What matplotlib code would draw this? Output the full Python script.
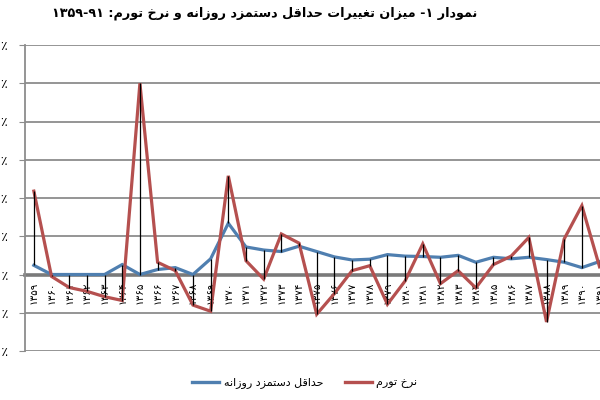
import matplotlib
matplotlib.use("Agg")
import matplotlib.pyplot as plt
from matplotlib.lines import Line2D

# years 1359..1391 (Persian digits on the axis)
years = list(range(1359, 1392))

# rate of change of the daily minimum wage (%)
wage_change = [12, 0, 0, 0, 0, 13, 0, 6.5, 9, 0, 20.5,
               67, 36, 32, 30, 37, 30, 23, 19, 20, 26,
               24, 23.5, 22.5, 25, 16, 22.5, 20.5, 22.5, 19.5, 16,
               9, 17]

# rate of change of inflation (%)
inflation_change = [109, -2.5, -17, -22, -29, -34, 250, 16, 5, -40, -48,
                    129, 18, -6, 53, 41, -52, -25, 5, 11.5, -39,
                    -8.5, 40, -12, 5, -17.5, 13, 24, 48.5, -62, 46.5,
                    90, 10]

yticks = [-100, -50, 0, 50, 100, 150, 200, 250, 300]

TITLE = "نمودار ۱- میزان تغییرات حداقل دستمزد روزانه و نرخ تورم: ۹۱-۱۳۵۹"
LABEL_WAGE = "حداقل دستمزد روزانه"
LABEL_INFL = "نرخ تورم"

BLUE = "#4f7fb0"
RED = "#b5504f"
GRID = "#8c8c8c"

# --- minimal persian shaping (matplotlib does no bidi / joining) ---
FORMS = {  # isolated, final, initial, medial
    "ا": (0xFE8D, 0xFE8E, None, None),
    "ب": (0xFE8F, 0xFE90, 0xFE91, 0xFE92),
    "ت": (0xFE95, 0xFE96, 0xFE97, 0xFE98),
    "ح": (0xFEA1, 0xFEA2, 0xFEA3, 0xFEA4),
    "خ": (0xFEA5, 0xFEA6, 0xFEA7, 0xFEA8),
    "د": (0xFEA9, 0xFEAA, None, None),
    "ر": (0xFEAD, 0xFEAE, None, None),
    "ز": (0xFEAF, 0xFEB0, None, None),
    "س": (0xFEB1, 0xFEB2, 0xFEB3, 0xFEB4),
    "غ": (0xFECD, 0xFECE, 0xFECF, 0xFED0),
    "ق": (0xFED5, 0xFED6, 0xFED7, 0xFED8),
    "ل": (0xFEDD, 0xFEDE, 0xFEDF, 0xFEE0),
    "م": (0xFEE1, 0xFEE2, 0xFEE3, 0xFEE4),
    "ن": (0xFEE5, 0xFEE6, 0xFEE7, 0xFEE8),
    "ه": (0xFEE9, 0xFEEA, 0xFEEB, 0xFEEC),
    "و": (0xFEED, 0xFEEE, None, None),
    "ی": (0xFBFC, 0xFBFD, 0xFBFE, 0xFBFF),
}
PDIG = "۰۱۲۳۴۵۶۷۸۹"


def fa(text):
    out = []
    for i, ch in enumerate(text):
        if ch not in FORMS:
            out.append(ch)
            continue
        prev = text[i - 1] if i > 0 else ""
        nxt = text[i + 1] if i + 1 < len(text) else ""
        join_prev = prev in FORMS and FORMS[prev][2] is not None
        join_next = nxt in FORMS and FORMS[ch][2] is not None
        iso, fin, ini, med = FORMS[ch]
        if join_prev and join_next:
            out.append(chr(med))
        elif join_next:
            out.append(chr(ini))
        elif join_prev:
            out.append(chr(fin))
        else:
            out.append(chr(iso))
    vis = "".join(out)[::-1]
    # keep digit runs left-to-right
    res, run = [], ""
    for ch in vis:
        if ch in PDIG:
            run += ch
        else:
            res.append(run[::-1])
            run = ""
            res.append(ch)
    res.append(run[::-1])
    return "".join(res)


def pnum(n):
    s = str(n)
    return "".join(PDIG[int(c)] if c.isdigit() else c for c in s)


fig = plt.figure(figsize=(6, 4), dpi=100)
ax = fig.add_axes([25 / 600, 49 / 400, 583.4 / 600, 306 / 400])

x = list(range(len(years)))
ax.plot(x, wage_change, color=BLUE, lw=2.3, zorder=3, solid_joinstyle="miter")
ax.plot(x, inflation_change, color=RED, lw=2.3, zorder=3, solid_joinstyle="miter")
lo = [min(a, b) for a, b in zip(wage_change, inflation_change)]
hi = [max(a, b) for a, b in zip(wage_change, inflation_change)]
ax.vlines(x, lo, hi, color="black", lw=0.9, zorder=4)

ax.set_xlim(-0.5, len(years) - 0.5)
ax.set_ylim(-100, 300)
ax.set_yticks(yticks)
ax.set_yticklabels([pnum(v) + "٪" for v in yticks], fontsize=9)
ax.yaxis.grid(True, color=GRID, lw=1.3, zorder=0)
ax.tick_params(axis="y", length=4, color=GRID, pad=8)

ax.spines["bottom"].set_position(("data", 0))
ax.spines["bottom"].set_color("#7a7a7a")
ax.spines["bottom"].set_linewidth(2.6)
ax.spines["bottom"].set_zorder(2)
ax.spines["left"].set_color(GRID)
ax.spines["left"].set_linewidth(1.3)
ax.spines["top"].set_visible(False)
ax.spines["right"].set_visible(False)

ax.set_xticks(x)
ax.set_xticklabels([pnum(y) for y in years], rotation=90, fontsize=7.5)
ax.tick_params(axis="x", length=0, pad=5)

fig.text(265 / 600, 0.966, fa(TITLE), ha="center", va="center",
         fontsize=9.2, fontweight="bold")

handles = [Line2D([], [], color=BLUE, lw=2.4), Line2D([], [], color=RED, lw=2.4)]
fig.legend(handles, [fa(LABEL_WAGE), fa(LABEL_INFL)], loc="center",
           bbox_to_anchor=(305 / 600, 1 - 383 / 400), ncol=2, frameon=False,
           fontsize=8, handlelength=2.4, columnspacing=2.0, handletextpad=0.4)

fig.savefig("out.png", dpi=100)
